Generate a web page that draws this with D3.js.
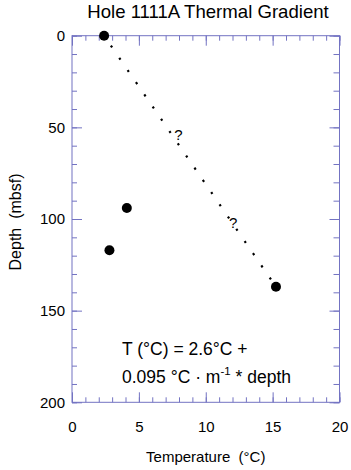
<!DOCTYPE html>
<html>
<head>
<meta charset="utf-8">
<script src="https://cdn.jsdelivr.net/npm/d3@7"></script>
<style>
  body { margin: 0; background: #fff; }
  text { font-family: "Liberation Sans", Arial, Helvetica, sans-serif; fill: #000; }
  .axis path { display: none; }
  .axis line { stroke: #7373c2; stroke-width: 1; }
  .axis text { font-size: 15px; }
</style>
</head>
<body>
<script>
// measured points (temperature in C, depth in mbsf)
var temps = [2.4, 4.1, 2.8, 15.25];
var depths = [0, 94, 117, 137];

// dotted gradient line, first to last point
var lineTemps = [2.4, 15.25];
var lineDepths = [0, 137];

// question marks along the line
var qTemps = [7.95, 12.05];
var qDepths = [54, 102];

var xTicks = [0, 5, 10, 15, 20];
var yTicks = [0, 50, 100, 150, 200];

var svgWidth = 351, svgHeight = 470;
var plotLeft = 72, plotRight = 339.5, plotTop = 35.7, plotBottom = 402.3;
var axisColor = "#7373c2";

var svg = d3.select("body").append("svg")
    .attr("width", svgWidth)
    .attr("height", svgHeight);

var x = d3.scaleLinear().domain([0, 20]).range([plotLeft, plotRight]);
var y = d3.scaleLinear().domain([0, 200]).range([plotTop, plotBottom]);

// frame
svg.append("rect")
    .attr("x", plotLeft).attr("y", plotTop)
    .attr("width", plotRight - plotLeft).attr("height", plotBottom - plotTop)
    .attr("fill", "none").attr("stroke", axisColor).attr("stroke-width", 1);

// bottom axis with labels, ticks pointing in
svg.append("g").attr("class", "axis")
    .attr("transform", "translate(0," + plotBottom + ")")
    .call(d3.axisBottom(x).tickValues(xTicks).tickSize(-10).tickPadding(19).tickFormat(d3.format("d")));
svg.append("g").attr("class", "axis")
    .attr("transform", "translate(0," + plotBottom + ")")
    .call(d3.axisBottom(x).tickValues(d3.range(0, 21)).tickSize(-5).tickFormat(""));

// top axis
svg.append("g").attr("class", "axis")
    .attr("transform", "translate(0," + plotTop + ")")
    .call(d3.axisTop(x).tickValues(xTicks).tickSize(-10).tickFormat(""));
svg.append("g").attr("class", "axis")
    .attr("transform", "translate(0," + plotTop + ")")
    .call(d3.axisTop(x).tickValues(d3.range(0, 21)).tickSize(-5).tickFormat(""));

// left axis with labels
svg.append("g").attr("class", "axis")
    .attr("transform", "translate(" + plotLeft + ",0)")
    .call(d3.axisLeft(y).tickValues(yTicks).tickSize(-10).tickPadding(7).tickFormat(d3.format("d")));
svg.append("g").attr("class", "axis")
    .attr("transform", "translate(" + plotLeft + ",0)")
    .call(d3.axisLeft(y).tickValues(d3.range(0, 201, 10)).tickSize(-5).tickFormat(""));

// right axis
svg.append("g").attr("class", "axis")
    .attr("transform", "translate(" + plotRight + ",0)")
    .call(d3.axisRight(y).tickValues(yTicks).tickSize(-10).tickFormat(""));
svg.append("g").attr("class", "axis")
    .attr("transform", "translate(" + plotRight + ",0)")
    .call(d3.axisRight(y).tickValues(d3.range(0, 201, 10)).tickSize(-6).tickFormat(""));

// dotted line
var lineData = d3.zip(lineTemps, lineDepths);
svg.append("path")
    .datum(lineData)
    .attr("d", d3.line().x(d => x(d[0])).y(d => y(d[1])))
    .attr("fill", "none")
    .attr("stroke", "#000")
    .attr("stroke-width", 2.2)
    .attr("stroke-dasharray", "2.2,12.6")
    .attr("stroke-dashoffset", -12);

// question marks
svg.selectAll(".q")
    .data(d3.zip(qTemps, qDepths))
    .enter().append("text")
    .attr("class", "q")
    .attr("x", d => x(d[0]))
    .attr("y", d => y(d[1]))
    .attr("text-anchor", "middle")
    .attr("dy", "0.35em")
    .style("font-size", "15px")
    .text("?");

// points
svg.selectAll(".dot")
    .data(d3.zip(temps, depths))
    .enter().append("circle")
    .attr("class", "dot")
    .attr("cx", d => x(d[0]))
    .attr("cy", d => y(d[1]))
    .attr("r", 5)
    .attr("fill", "#000");

// equation
var eq = svg.append("text")
    .attr("x", x(3.74))
    .attr("y", y(174))
    .style("font-size", "17.5px");
eq.append("tspan").text("T (\u00B0C) = 2.6\u00B0C +");
var eq2 = svg.append("text")
    .attr("x", x(3.74))
    .attr("y", y(189.5))
    .style("font-size", "17.5px");
eq2.append("tspan").text("0.095 \u00B0C \u00B7 m");
eq2.append("tspan").attr("dy", "-0.7em").style("font-size", "11.5px").text("-1");
eq2.append("tspan").attr("dy", "0.46em").text(" * depth");

// title and axis labels
svg.append("text")
    .attr("x", 208).attr("y", 18)
    .attr("text-anchor", "middle")
    .style("font-size", "18.6px")
    .text("Hole 1111A Thermal Gradient");

svg.append("text")
    .attr("x", (plotLeft + plotRight) / 2).attr("y", 462)
    .attr("text-anchor", "middle")
    .style("font-size", "15px")
    .text("Temperature \u00A0(\u00B0C)");

svg.append("text")
    .attr("transform", "translate(21,222) rotate(-90)")
    .attr("text-anchor", "middle")
    .style("font-size", "16px")
    .text("Depth \u00A0(mbsf)");
</script>
</body>
</html>
